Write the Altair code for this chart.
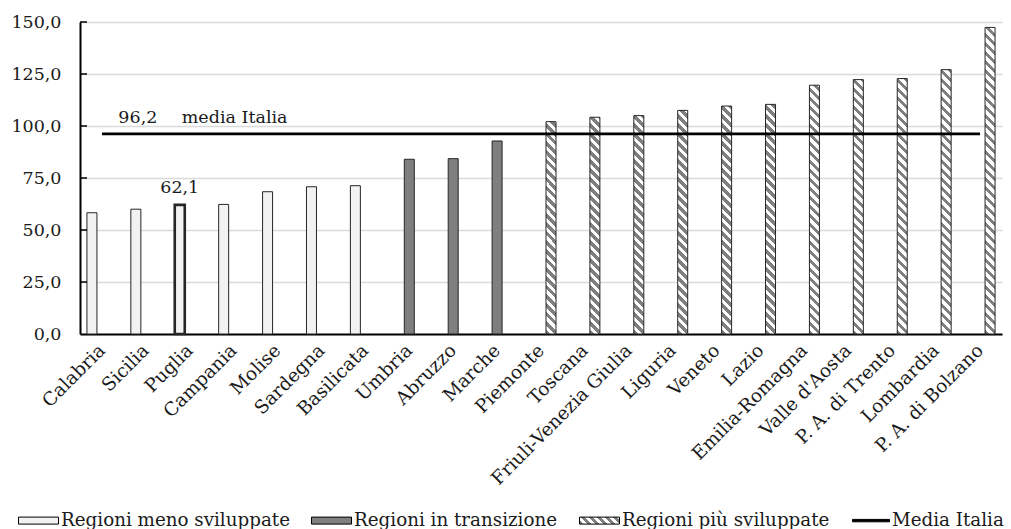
import json
import altair as alt

# ---------------- data ----------------
regions = ["Calabria", "Sicilia", "Puglia", "Campania", "Molise", "Sardegna",
           "Basilicata", "Umbria", "Abruzzo", "Marche", "Piemonte", "Toscana",
           "Friuli-Venezia Giulia", "Liguria", "Veneto", "Lazio", "Emilia-Romagna",
           "Valle d'Aosta", "P. A. di Trento", "Lombardia", "P. A. di Bolzano"]
values = [58.3, 60.0, 62.1, 62.3, 68.4, 70.8, 71.3, 84.0, 84.3, 92.8, 102.1,
          104.2, 105.0, 107.5, 109.6, 110.4, 119.6, 122.3, 122.8, 127.1, 147.4]
groups = (["Regioni meno sviluppate"] * 7 + ["Regioni in transizione"] * 3
          + ["Regioni più sviluppate"] * 11)
group_names = ["Regioni meno sviluppate", "Regioni in transizione", "Regioni più sviluppate"]
media_italia = 96.2
highlight = "Puglia"
y_ticks = [0, 25, 50, 75, 100, 125, 150]
legend_items = group_names + ["Media Italia"]

# ---------------- layout ----------------
W, H = 922, 312
YMAX = 150
BAR_W = 10
FONT = "DejaVu Serif"
TXT = "#1a1a1a"


def stripes(w, h, period=9.0, frac=0.5, dark="#7f7f7f", light="#ffffff"):
    """Linear gradient (bbox units) emulating '\\' diagonal hatching."""
    L = w + h
    k = L / (w * w + h * h)
    stops = []
    j = 0
    while j * period <= L + period:
        a = round(min(1.0, j * period / L), 5)
        b = round(min(1.0, (j * period + frac * period) / L), 5)
        c = round(min(1.0, (j + 1) * period / L), 5)
        stops += [{"offset": a, "color": dark}, {"offset": b, "color": dark},
                  {"offset": b, "color": light}, {"offset": c, "color": light}]
        j += 1
    return {"gradient": "linear", "x1": 0, "y1": 1, "x2": round(k * w, 5),
            "y2": round(1 - k * h, 5), "stops": stops}


solid = {"Regioni meno sviluppate": "#f2f2f2", "Regioni in transizione": "#7f7f7f"}
rows = []
for r, v, g in zip(regions, values, groups):
    fill = solid.get(g) or stripes(BAR_W, v * H / YMAX)
    rows.append({"region": r, "value": v, "group": g, "fillv": fill})

x_enc = alt.X("region:N", sort=regions, title=None,
              scale=alt.Scale(paddingInner=0.3167, paddingOuter=0.1583),
              axis=alt.Axis(labelAngle=315, labelAlign="right", labelBaseline="middle",
                            labelPadding=13, ticks=False, domainColor="black",
                            domainWidth=2, grid=False, labelLimit=400))
y_enc = alt.Y("value:Q", title=None,
              scale=alt.Scale(domain=[0, YMAX], nice=False, zero=True),
              axis=alt.Axis(values=y_ticks, ticks=False, labelPadding=19,
                            domainColor="black", domainWidth=2, grid=True,
                            gridColor="#dadada", gridWidth=1.5,
                            labelExpr="replace(format(datum.value, '.1f'), '.', ',')"))

bars = alt.Chart(alt.Data(values=rows)).mark_bar(stroke="#262626").encode(
    x=x_enc,
    xOffset=alt.XOffset("group:N", sort=group_names,
                        scale=alt.Scale(domain=group_names, paddingInner=0, paddingOuter=0)),
    y=y_enc,
    fill=alt.Fill("fillv:N", scale=None, legend=None),
    strokeWidth=alt.condition(alt.datum.region == highlight, alt.value(2.6), alt.value(1)),
)

line = alt.Chart(alt.Data(values=[{"region": r, "value": media_italia} for r in regions])
                 ).mark_line(color="black", strokeWidth=2.6).encode(x=x_enc, y=y_enc)

fmt = lambda v: f"{v:.1f}".replace(".", ",")
hv = values[regions.index(highlight)]
txt_media_val = alt.Chart(alt.Data(values=[{"region": regions[1], "value": media_italia,
                                            "t": fmt(media_italia)}])).mark_text(
    font=FONT, fontSize=17.5, color=TXT, align="center", baseline="alphabetic", dx=-8, dy=-11
).encode(x=x_enc, y=y_enc, text="t:N")
txt_media_lbl = alt.Chart(alt.Data(values=[{"region": highlight, "value": media_italia,
                                            "t": "media Italia"}])).mark_text(
    font=FONT, fontSize=17.5, color=TXT, align="left", baseline="alphabetic", dx=-8, dy=-11
).encode(x=x_enc, y=y_enc, text="t:N")
txt_hl = alt.Chart(alt.Data(values=[{"region": highlight, "value": hv, "t": fmt(hv)}])).mark_text(
    font=FONT, fontSize=17.5, color=TXT, align="center", baseline="alphabetic", dx=-10, dy=-12
).encode(x=x_enc, y=y_enc, text="t:N")

inner_ticks = alt.Chart(alt.Data(values=[{"value": t} for t in y_ticks[1:]])).mark_rule(
    color="black", strokeWidth=1.5
).encode(y=y_enc, x=alt.value(0), x2=alt.value(7))

# legend-only layer (its own symbols are clipped away; only the legend shows)
sw = stripes(40, 7, period=8.0)
rect_path = "M-1,-0.175H1V0.175H-1Z"
line_path = "M-0.85,-0.06H1V0.06H-0.85Z"
leg = alt.Legend(title=None, orient="none", legendX=-62, legendY=478, direction="horizontal",
                 columnPadding=19, labelOffset=2, labelFont=FONT,
                 labelFontSize=18.3, labelColor=TXT, labelLimit=400, symbolSize=1600,
                 symbolStrokeColor="black", symbolStrokeWidth=1)
legend_layer = alt.Chart(alt.Data(values=[{"item": i} for i in legend_items])).mark_point(
    filled=True, opacity=1, size=1600, clip=True).encode(
    x=alt.value(-2000), y=alt.value(-2000),
    color=alt.Color("item:N", sort=legend_items,
                    scale=alt.Scale(domain=legend_items,
                                    range=["#f2f2f2", "#7f7f7f",
                                           alt.ExprRef(expr=json.dumps(sw)), "#000000"]),
                    legend=leg),
    shape=alt.Shape("item:N", sort=legend_items,
                    scale=alt.Scale(domain=legend_items,
                                    range=[rect_path, rect_path, rect_path, line_path]),
                    legend=leg),
)

chart = alt.layer(bars, line, txt_media_val, txt_media_lbl, txt_hl, inner_ticks, legend_layer).properties(
    width=W, height=H,
    autosize=alt.AutoSizeParams(type="none"),
    padding={"left": 80, "top": 22, "right": 9, "bottom": 195},
).configure_view(stroke=None).configure_axis(
    labelFont=FONT, labelColor=TXT
).configure_axisX(labelFontSize=18.5).configure_axisY(labelFontSize=17.5)

chart.save("out.html", embed_options={"renderer": "svg", "actions": False})
